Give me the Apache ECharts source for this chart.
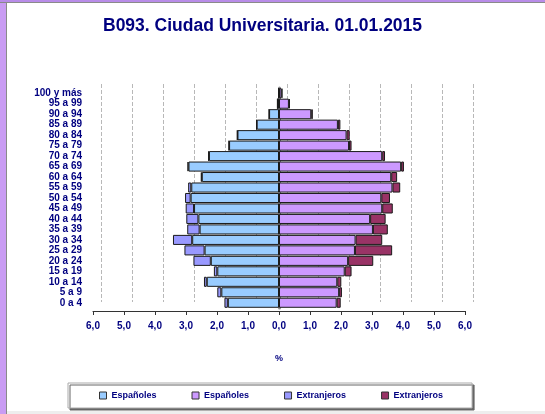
<!DOCTYPE html>
<html>
<head>
<meta charset="utf-8">
<script src="https://cdn.jsdelivr.net/npm/echarts@6/dist/echarts.min.js"></script>
<style>
  html, body { margin: 0; padding: 0; background: #fff; }
  #chart { width: 545px; height: 414px; }
  .marco-izq { position: absolute; left: 0; top: 0; width: 6px; height: 414px; background: #c99cf3; border-right: 1px solid #8a8a8a; }
  .marco-sup { position: absolute; left: 0; top: 0; width: 545px; height: 2px; background: #b88ce8; border-bottom: 1px solid #8a8a8a; }
  .marco-inf { position: absolute; left: 7px; top: 411px; width: 538px; height: 3px; background: #eeeeee; }
</style>
</head>
<body>
<div id="chart"></div>
<div class="marco-izq"></div>
<div class="marco-sup"></div>
<div class="marco-inf"></div>
<script>
// grupos de edad, de abajo (0 a 4) hacia arriba (100 y más)
const edades = ['0 a 4', '5 a 9', '10 a 14', '15 a 19', '20 a 24', '25 a 29', '30 a 34', '35 a 39',
  '40 a 44', '45 a 49', '50 a 54', '55 a 59', '60 a 64', '65 a 69', '70 a 74', '75 a 79',
  '80 a 84', '85 a 89', '90 a 94', '95 a 99', '100 y más'];

// % sobre el total de población
const hombresEsp = [1.65, 1.86, 2.33, 1.99, 2.20, 2.40, 2.80, 2.56, 2.60, 2.74, 2.85, 2.83, 2.49, 2.92, 2.26, 1.61, 1.34, 0.72, 0.32, 0.05, 0.01];
const hombresExt = [0.11, 0.13, 0.09, 0.11, 0.56, 0.65, 0.62, 0.40, 0.39, 0.27, 0.18, 0.10, 0.03, 0.03, 0.02, 0.01, 0.01, 0.01, 0.00, 0.00, 0.00];
const mujeresEsp = [1.86, 1.94, 1.88, 2.12, 2.23, 2.45, 2.47, 3.03, 2.94, 3.33, 3.30, 3.66, 3.62, 3.94, 3.33, 2.26, 2.18, 1.90, 1.04, 0.32, 0.08];
const mujeresExt = [0.13, 0.09, 0.13, 0.22, 0.81, 1.20, 0.86, 0.48, 0.50, 0.34, 0.28, 0.25, 0.19, 0.09, 0.09, 0.08, 0.10, 0.08, 0.05, 0.03, 0.03];

const azul = '#000080';
const fuente = 'Liberation Sans';

const chart = echarts.init(document.getElementById('chart'));

const barra = (name, stack, data, color) => ({
  name: name,
  type: 'bar',
  stack: stack,
  xAxisIndex: 0,
  yAxisIndex: 0,
  barGap: '-100%',
  barCategoryGap: '4%',
  itemStyle: { color: color, borderColor: '#1a1a1a', borderWidth: 1 },
  data: data
});

const option = {
  animation: false,
  textStyle: { fontFamily: fuente },
  title: {
    text: 'B093. Ciudad Universitaria. 01.01.2015',
    left: 98,
    top: 12,
    textStyle: { color: azul, fontSize: 17.5, fontWeight: 'bold', fontFamily: fuente }
  },
  legend: {
    data: ['Españoles (H)', 'Españoles (M)', 'Extranjeros (H)', 'Extranjeros (M)'],
    formatter: (n) => n.split(' (')[0],
    left: 68,
    top: 383,
    icon: 'rect',
    itemWidth: 7,
    itemHeight: 7,
    itemGap: 35,
    padding: [8, 29, 8, 31],
    backgroundColor: '#fff',
    borderColor: '#aaa',
    borderWidth: 1,
    shadowColor: '#666',
    shadowBlur: 0,
    shadowOffsetX: 2,
    shadowOffsetY: 2,
    itemStyle: { borderColor: '#333', borderWidth: 1 },
    textStyle: { color: azul, fontSize: 9, fontWeight: 'bold', fontFamily: fuente }
  },
  grid: [
    { left: 93, right: 80, top: 88, bottom: 106 },
    // pared del fondo (efecto 3D)
    { left: 101, right: 72, top: 84, bottom: 112 }
  ],
  xAxis: [
    {
      type: 'value',
      gridIndex: 0,
      min: -6,
      max: 6,
      interval: 1,
      offset: 3,
      name: '%',
      nameLocation: 'middle',
      nameGap: 43,
      nameTextStyle: { color: azul, fontSize: 9, fontWeight: 'bold' },
      axisLine: { show: true, lineStyle: { color: '#333' } },
      axisTick: { show: true, length: 4, lineStyle: { color: '#333' } },
      splitLine: { show: false },
      axisLabel: {
        color: azul,
        fontSize: 10,
        fontWeight: 'bold',
        margin: 10,
        formatter: (v) => Math.abs(v).toFixed(1).replace('.', ',')
      }
    },
    {
      type: 'value',
      gridIndex: 1,
      min: -6,
      max: 6,
      interval: 1,
      axisLine: { show: false },
      axisTick: { show: false },
      axisLabel: { show: false },
      splitLine: { show: true, lineStyle: { color: '#b8b8b8', type: 'dashed' } }
    }
  ],
  yAxis: [
    {
      type: 'category',
      gridIndex: 0,
      data: edades,
      axisLine: { show: true, lineStyle: { color: '#8c8c8c', width: 3 } },
      axisTick: { show: false },
      axisLabel: { color: azul, fontSize: 10, fontWeight: 'bold', margin: 11, interval: 0 }
    },
    {
      type: 'category',
      gridIndex: 1,
      data: edades,
      show: false
    }
  ],
  series: [
    barra('Españoles (H)', 'h', hombresEsp.map(v => -v), '#99ccff'),
    barra('Extranjeros (H)', 'h', hombresExt.map(v => -v), '#9999ff'),
    barra('Españoles (M)', 'm', mujeresEsp, '#cc99ff'),
    barra('Extranjeros (M)', 'm', mujeresExt, '#993366')
  ]
};

chart.setOption(option);
</script>
</body>
</html>
